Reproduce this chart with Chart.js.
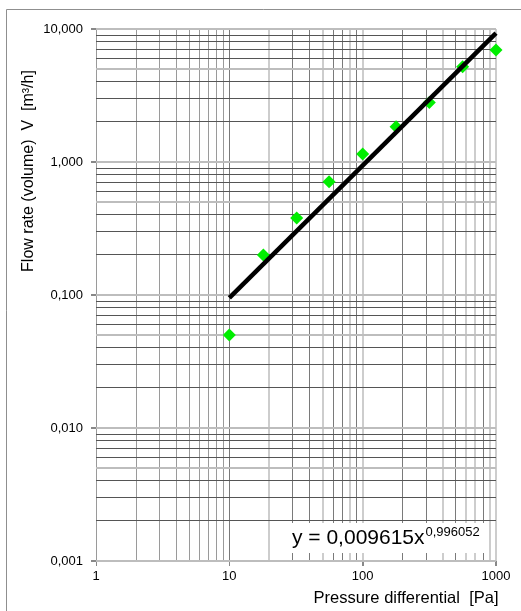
<!DOCTYPE html>
<html>
<head>
<meta charset="utf-8">
<script src="https://cdn.jsdelivr.net/npm/chart.js@4"></script>
<style>
  body { margin: 0; background: #fff; }
  canvas { display: block; }
</style>
</head>
<body>
<canvas id="flowChart" width="521" height="611"></canvas>
<script>
// measured points
const pressure = [10, 18, 32, 56, 100, 178, 316, 562, 1000]
const flow = [0.05, 0.2, 0.38, 0.71, 1.15, 1.84, 2.8, 5.2, 6.95]

// power trend line, read at its two ends
const trendX = [10, 1000]
const trendY = [0.095, 9.3]

// tick labels for each decade
const xDecades = [0, 1, 2, 3]
const xTickLabels = ['1', '10', '100', '1000']
const yDecades = [-3, -2, -1, 0, 1]
const yTickLabels = ['0,001', '0,010', '0,100', '1,000', '10,000']

const xTitle = 'Pressure differential  [Pa]'
const yTitle = 'Flow rate (volume)  V  [m³/h]'
const eqMain = 'y = 0,009615x'
const eqExp = '0,996052'

const FONT = '"Liberation Sans", Arial, sans-serif'

// light vertical lines in the reference
const lightX = [20, 50, 80, 100, 400, 600, 700, 900, 1000]

const decadeOf = v => Math.log10(v)
const isMajor = v => Math.abs(decadeOf(v) - Math.round(decadeOf(v))) < 1e-6

// 1..9 per decade, so no extra 1.5 ticks
const logTicks = (decades) => {
    let out = []
    decades.forEach((e, i) => {
        for (let m = 1; m <= 9; m++) {
            if (i === decades.length - 1 && m > 1) break
            out.push({ value: parseFloat((m * Math.pow(10, e)).toPrecision(3)) })
        }
    })
    return out
}

const labelFor = (v, decades, labels) => {
    if (!isMajor(v)) return ''
    let i = decades.indexOf(Math.round(decadeOf(v)))
    return i >= 0 ? labels[i] : ''
}

const pageDecor = {
    id: 'pageDecor',
    beforeDraw(chart) {
        const ctx = chart.ctx
        ctx.save()
        ctx.fillStyle = '#fff'
        ctx.fillRect(0, 0, chart.width, chart.height)
        ctx.restore()
    },
    afterDraw(chart) {
        const ctx = chart.ctx
        ctx.save()

        // outer frame (left and top only are visible)
        ctx.strokeStyle = '#8f8f8f'
        ctx.lineWidth = 1
        ctx.beginPath()
        ctx.moveTo(6.5, chart.height)
        ctx.lineTo(6.5, 9.5)
        ctx.lineTo(chart.width, 9.5)
        ctx.stroke()

        // equation label with white box
        ctx.fillStyle = '#fff'
        ctx.fillRect(283, 523, 206, 30)
        ctx.fillStyle = '#000'
        ctx.textBaseline = 'alphabetic'
        ctx.textAlign = 'left'
        ctx.font = '21px ' + FONT
        ctx.fillText(eqMain, 292, 544)
        let w = ctx.measureText(eqMain).width
        ctx.font = '13px ' + FONT
        ctx.fillText(eqExp, 292 + w + 1, 536)

        // x title
        ctx.font = '16.5px ' + FONT
        ctx.textAlign = 'center'
        ctx.fillText(xTitle, 406, 603)

        // y title
        ctx.translate(33, 171)
        ctx.rotate(-Math.PI / 2)
        ctx.textAlign = 'center'
        ctx.font = '16px ' + FONT
        ctx.fillText(yTitle, 0, 0)

        ctx.restore()
    }
}

const ctx = document.getElementById('flowChart').getContext('2d')

const chart = new Chart(ctx, {
    type: 'scatter',
    data: {
        datasets: [
            {
                label: 'trend',
                data: trendX.map((x, i) => ({ x, y: trendY[i] })),
                showLine: true,
                borderColor: '#000',
                borderWidth: 4.5,
                pointRadius: 0,
                clip: false,
                order: 0
            },
            {
                label: 'measured',
                data: pressure.map((x, i) => ({ x, y: flow[i] })),
                pointStyle: 'rectRot',
                pointRadius: 6.5,
                pointHoverRadius: 6.5,
                backgroundColor: '#00ee00',
                borderColor: '#00ee00',
                borderWidth: 0,
                clip: false,
                order: 1
            }
        ]
    },
    options: {
        responsive: false,
        animation: false,
        events: [],
        layout: { padding: { left: 0, top: 29, right: 25, bottom: 0 } },
        plugins: {
            legend: { display: false },
            tooltip: { enabled: false }
        },
        scales: {
            x: {
                type: 'logarithmic',
                min: 1,
                max: 1000,
                afterBuildTicks: scale => { scale.ticks = logTicks(xDecades) },
                afterFit: scale => { scale.height = 50 },
                border: { display: false },
                grid: {
                    drawTicks: true,
                    tickLength: 5,
                    color: c => {
                        let v = c.tick.value
                        if (v < 10) return '#9a9a9a'
                        return lightX.some(l => Math.abs(l - v) < 1e-6) ? '#cdcdcd' : '#7a7a7a'
                    },
                    lineWidth: c => lightX.some(l => Math.abs(l - c.tick.value) < 1e-6) ? 2 : 1,
                    tickColor: c => isMajor(c.tick.value) ? '#888' : 'rgba(0,0,0,0)'
                },
                ticks: {
                    autoSkip: false,
                    maxRotation: 0,
                    padding: 3,
                    color: '#000',
                    font: { family: FONT, size: 13 },
                    callback: v => labelFor(v, xDecades, xTickLabels)
                }
            },
            y: {
                type: 'logarithmic',
                min: 0.001,
                max: 10,
                afterBuildTicks: scale => { scale.ticks = logTicks(yDecades) },
                afterFit: scale => { scale.width = 96 },
                border: { display: false },
                grid: {
                    drawTicks: true,
                    tickLength: 5,
                    color: c => {
                        let v = c.tick.value
                        let m = Math.round(v / Math.pow(10, Math.floor(decadeOf(v) + 1e-9)))
                        return (m === 1 || m === 5) ? '#bdbdbd' : '#555'
                    },
                    lineWidth: c => {
                        let v = c.tick.value
                        let m = Math.round(v / Math.pow(10, Math.floor(decadeOf(v) + 1e-9)))
                        return (m === 1 || m === 5) ? 2 : 1
                    },
                    tickColor: c => isMajor(c.tick.value) ? '#888' : 'rgba(0,0,0,0)'
                },
                ticks: {
                    autoSkip: false,
                    padding: 8,
                    color: '#000',
                    font: { family: FONT, size: 13 },
                    callback: v => labelFor(v, yDecades, yTickLabels)
                }
            }
        }
    },
    plugins: [pageDecor]
})
</script>
</body>
</html>
